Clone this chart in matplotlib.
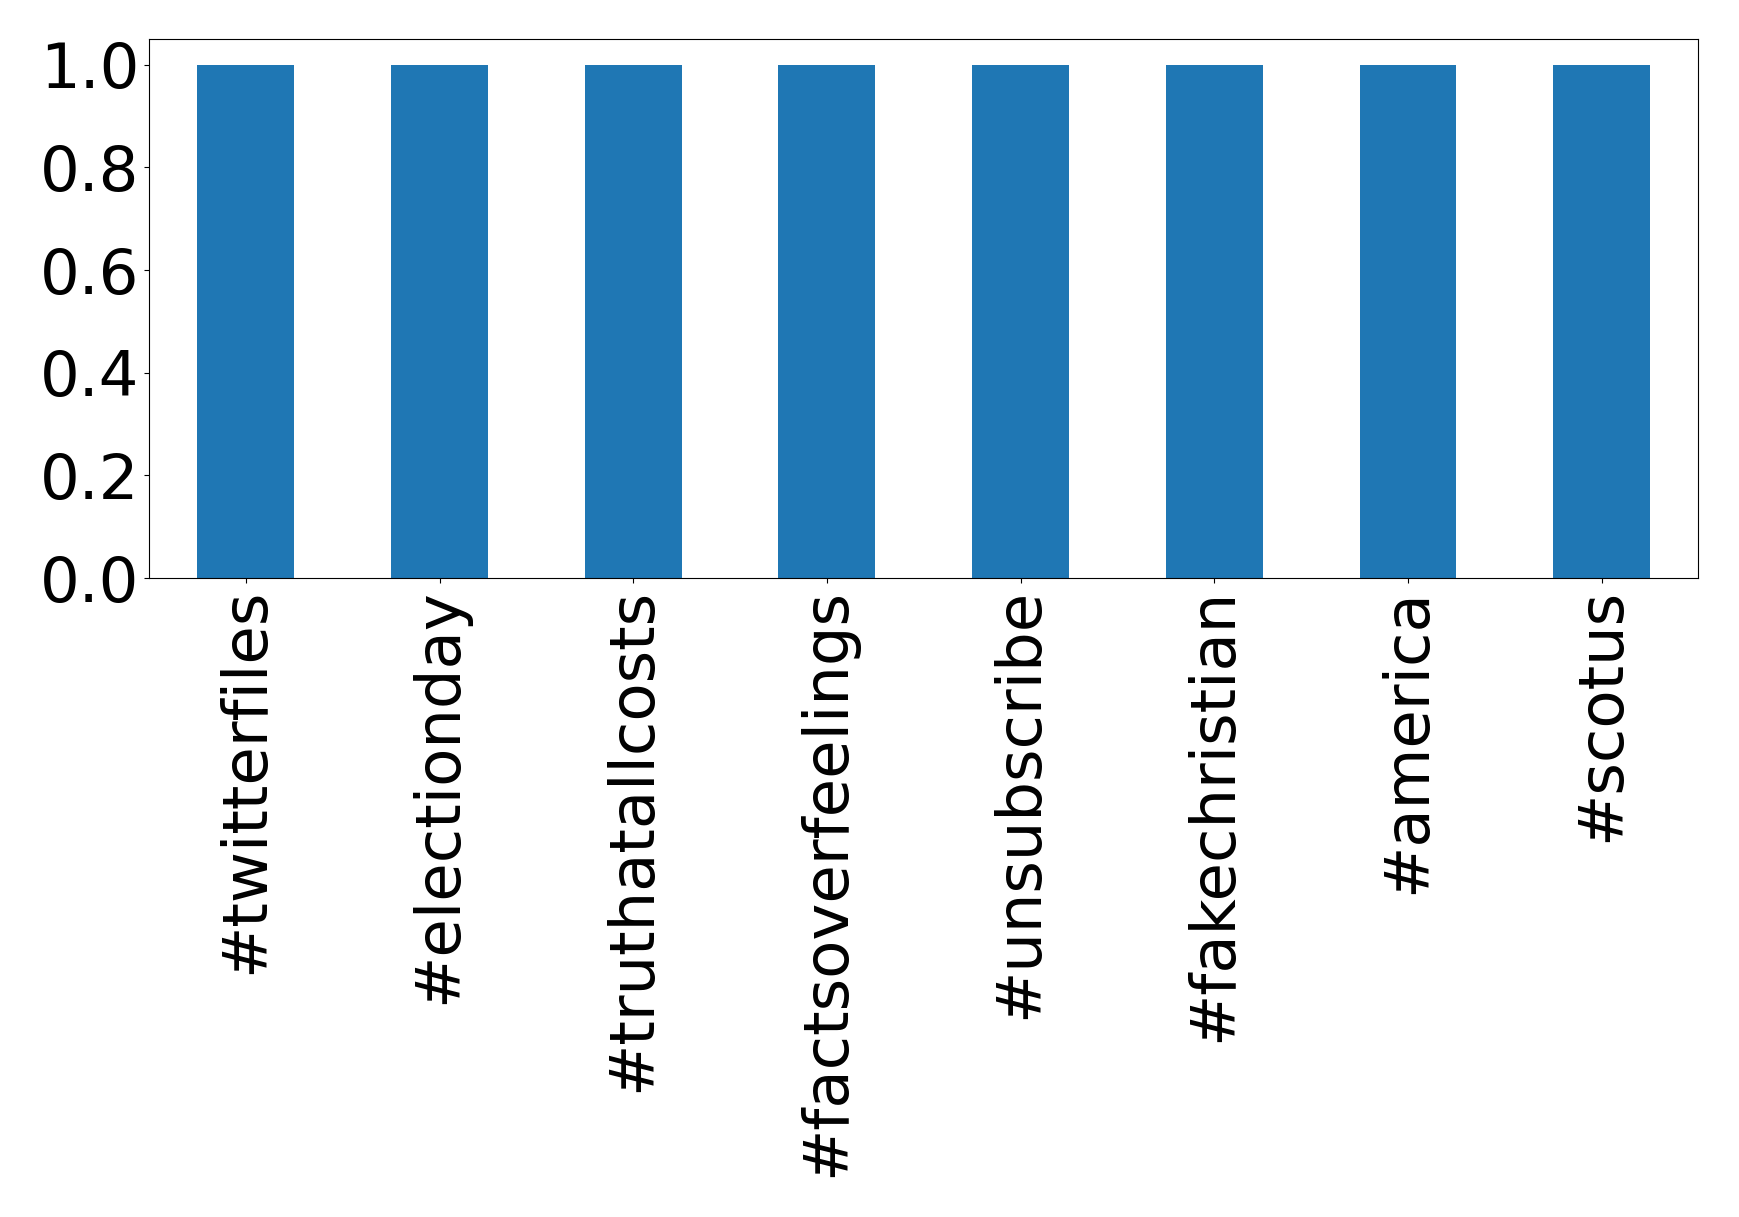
import matplotlib
matplotlib.use("Agg")
import matplotlib.pyplot as plt

categories = ["#twitterfiles", "#electionday", "#truthatallcosts", "#factsoverfeelings",
              "#unsubscribe", "#fakechristian", "#america", "#scotus"]
values = [1, 1, 1, 1, 1, 1, 1, 1]
yticks = [0.0, 0.2, 0.4, 0.6, 0.8, 1.0]

fig = plt.figure(figsize=(17.39, 12.17), dpi=100)
ax = fig.add_axes([0.0857, 0.525, 0.891, 0.443])
x = list(range(len(categories)))
ax.bar(x, values, width=0.5, color="#1f77b4")
ax.set_xlim(-0.5, len(categories) - 0.5)
ax.set_xticks(x)
ax.set_xticklabels(categories, rotation=90, fontsize=45)
ax.set_yticks(yticks)
ax.set_yticklabels([f"{t:.1f}" for t in yticks])
ax.tick_params(axis="y", labelsize=45)
fig.savefig("out.png", dpi=100)
